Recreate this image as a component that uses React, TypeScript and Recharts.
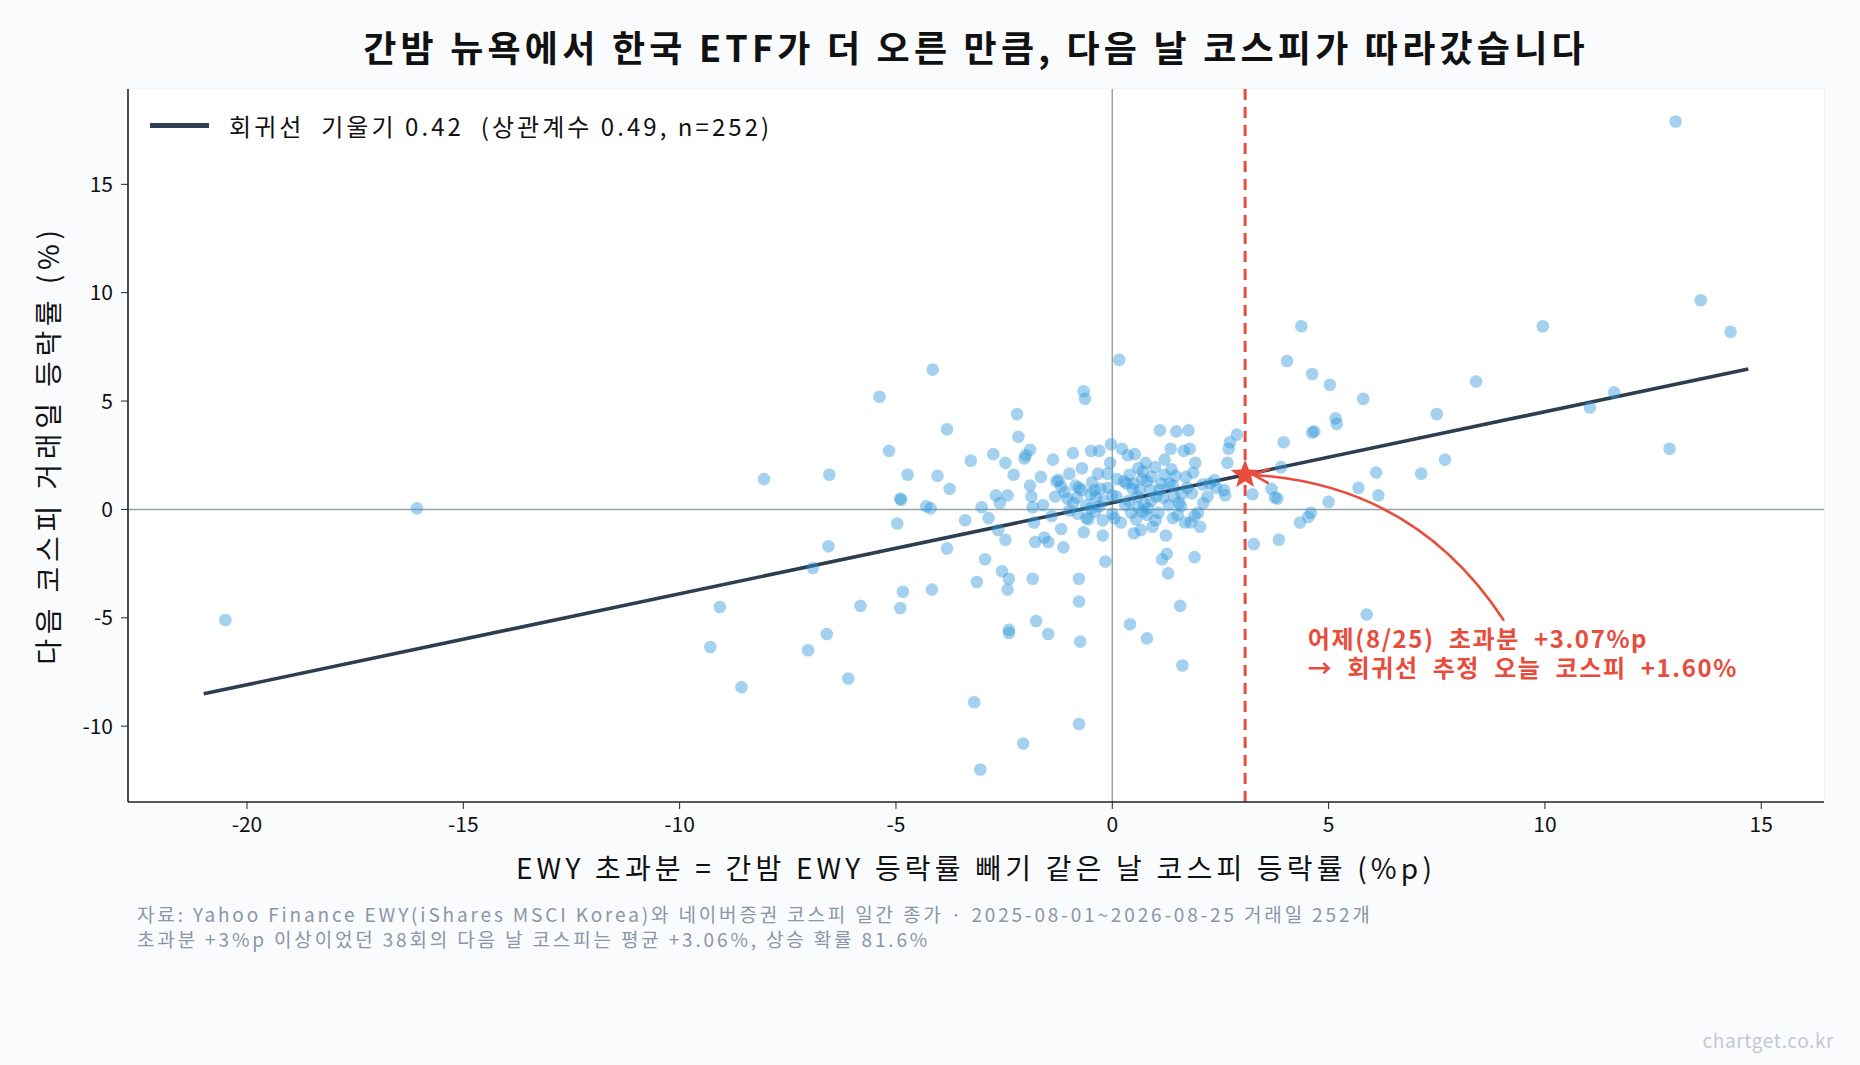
import React from 'react';
import {
  ScatterChart, Scatter, XAxis, YAxis, CartesianGrid, ReferenceLine, ReferenceDot,
} from 'recharts';

// EWY 초과분 (%p) -> 다음 날 코스피 등락률 (%)
const excessX: number[] = [
  -20.5, -16.07, -9.29, -9.07, -8.57, -8.05, -7.03, -6.92, -6.54, -6.56, -6.6, -6.1, -5.82, -5.38, -5.16,
  -4.9, -4.88, -4.97, -4.84, -4.9, -4.73, -4.15, -4.04, -3.82, -3.76, -4.3, -4.2, -3.82, -4.17, -3.4,
  -3.27, -3.13, -3.19, -3.05, -3.02, -2.94, -2.86, -2.75, -2.69, -2.64, -2.55, -2.47, -2.42, -2.47, -2.39,
  -2.42, -2.39, -2.39, -2.28, -2.2, -2.17, -2.03, -2.0, -1.9, -2.06, -1.87, -1.84, -1.81, -1.78, -1.84,
  -1.76, -1.65, -1.57, -1.48, -1.48, -1.37, -1.32, -1.29, -1.24, -1.18, -1.18, -1.13, -0.99, -0.91, -0.85,
  -1.04, -0.99, -0.82, -0.77, -0.71, -0.77, -0.77, -0.74, -0.77, -0.66, -0.66, -0.63, -0.6, -0.55, -0.49,
  -0.49, -0.47, -0.41, -0.38, -0.33, -0.3, -0.3, -0.27, -0.22, -0.22, -0.16, -0.11, -0.05, -0.03, 0.0,
  0.0, 0.05, 0.11, 0.16, 0.22, 0.27, 0.33, 0.36, 0.38, 0.41, 0.44, 0.47, 0.49, 0.52, 0.55,
  0.58, 0.6, 0.63, 0.66, 0.69, 0.71, 0.74, 0.77, 0.8, 0.8, 0.82, 0.88, 0.91, 0.93, 0.99,
  1.02, 1.07, 1.1, 1.13, 1.15, 1.18, 1.21, 1.24, 1.26, 1.29, 1.32, 1.35, 1.37, 1.4, 1.43,
  1.46, 1.48, 1.51, 1.54, 1.57, 1.59, 1.62, 1.65, 1.68, 1.73, 1.76, 1.79, 1.81, 1.84, 1.87,
  1.9, 1.92, 1.98, 2.03, 2.09, 2.2, 2.25, 2.36, 2.58, 2.61, 2.66, 2.69, 2.72, 2.88, 3.24,
  3.27, 3.68, 3.76, 3.82, 3.85, 3.9, 3.96, 4.04, 4.34, 4.37, 4.53, 4.59, 4.62, 4.62, 4.67,
  5.0, 5.03, 5.16, 5.19, 5.8, 5.69, 5.88, 6.1, 6.15, 7.14, 7.5, 7.69, 8.41, 9.95, 11.04,
  11.6, 12.88, 13.02, 13.6, 14.29,
  -1.6, -1.4, -1.1, -0.9, -0.8, -0.6, -0.5, -0.4, -0.2, -0.1, 0.1, 0.2, 0.3, 0.4, 0.6,
  0.7, 0.8, 0.9, 1.0, 1.1, 1.2, 1.3, 1.4, 1.6, 1.7, 1.9, 2.1, 2.4, -2.6, -1.9,
  -0.7, 0.5,
];

const nextKospi: number[] = [
  -5.1, 0.05, -6.35, -4.5, -8.2, 1.4, -6.5, -2.7, 1.6, -1.7, -5.75, -7.8, -4.45, 5.2, 2.7,
  0.5, 0.45, -0.65, -3.8, -4.55, 1.6, 6.45, 1.55, 3.7, 0.95, 0.15, 0.05, -1.8, -3.7, -0.5,
  2.25, -3.35, -8.9, -12.0, 0.1, -2.3, -0.4, 2.55, 0.65, -0.95, -2.85, 2.15, 0.65, -1.4, -3.2,
  -3.7, -5.55, -5.7, 1.6, 4.4, 3.35, 2.35, 2.5, 2.75, -10.8, 0.6, 0.1, -0.6, -1.5, -3.2,
  -5.15, 1.5, -1.3, -5.75, -1.5, 2.3, 0.6, 1.3, 1.35, 1.05, -0.9, -1.75, 1.65, 2.6, 1.1,
  0.5, -0.05, 0.55, 1.0, 0.9, -3.2, -4.25, -6.1, -9.9, -1.05, 5.45, 5.1, -0.4, -0.45, 0.05,
  2.7, 1.25, 0.9, 0.55, 1.65, 0.15, 2.7, 0.95, -0.5, -1.2, -2.4, 1.65, 2.15, 3.0, 0.65,
  -0.2, -0.4, 1.4, 6.9, 2.8, 1.3, 1.2, 2.5, 0.4, -5.3, -0.15, 0.95, 1.2, 2.55, -0.45,
  0.6, 0.1, 0.9, -0.95, 1.4, 1.75, 0.25, 2.15, -0.25, -5.95, 0.05, 0.9, 1.5, -0.8, 1.95,
  0.6, -0.15, 3.65, 1.2, -2.3, 0.55, 2.3, -1.2, -2.05, -2.95, 1.2, 2.8, 1.85, -0.4, 0.6,
  1.55, 3.6, -0.25, 0.3, -4.45, 0.15, -7.2, 2.7, -0.6, 1.0, 3.65, 2.8, -0.6, 0.75, 1.7,
  -2.2, 2.15, -0.15, -0.8, 1.15, 0.6, 1.2, 1.35, 0.9, 0.65, 2.15, 2.8, 3.1, 3.45, 0.7,
  -1.6, 0.95, 0.55, 0.5, -1.4, 1.95, 3.1, 6.85, -0.6, 8.45, -0.35, -0.15, 6.25, 3.55, 3.6,
  0.35, 5.75, 4.2, 3.95, 5.1, 1.0, -4.85, 1.7, 0.65, 1.65, 4.4, 2.3, 5.9, 8.45, 4.7,
  5.4, 2.8, 17.9, 9.65, 8.2,
  0.2, -0.3, 0.8, 0.3, -0.2, 0.2, 0.7, -0.1, 0.4, 1.0, 0.6, -0.6, 0.2, 1.6, 1.9,
  -0.1, 1.3, 0.4, -0.5, 0.9, 1.6, 0.2, 1.1, 0.7, 1.5, -0.3, 0.3, 1.0, 0.3, 1.1,
  1.9, -1.1,
];

const points = excessX.map((x, i) => ({ x, y: nextKospi[i] }));

const xTicks = [-20, -15, -10, -5, 0, 5, 10, 15];
const yTicks = [-10, -5, 0, 5, 10, 15];

const slope = 0.42;
const intercept = 0.31;
const lineStartX = -21;
const lineEndX = 14.7;

const todayExcess = 3.07;
const todayEstimate = 1.6;
const today = [{ x: todayExcess, y: todayEstimate }];

const arrowFrom = { x: 9.04, y: -5.09 };
const arrowTo = { x: 3.27, y: 1.59 };

const FONT = '"Noto Sans CJK KR", "Noto Sans", sans-serif';
const RED = '#e74c3c';
const NAVY = '#2c3e50';

const Dot = (props: any) => (
  <circle cx={props.cx} cy={props.cy} r={6.3} fill="#3498db" fillOpacity={0.45} />
);

const Star = (props: any) => {
  const { cx, cy } = props;
  const pts: string[] = [];
  for (let i = 0; i < 10; i++) {
    const r = i % 2 === 0 ? 15 : 6.5;
    const a = -Math.PI / 2 + (i * Math.PI) / 5;
    pts.push(`${cx + r * Math.cos(a)},${cy + r * Math.sin(a)}`);
  }
  return <polygon points={pts.join(' ')} fill={RED} />;
};

const CurvedArrow = (props: any) => {
  const { x1, y1, x2, y2 } = props;
  const dx = x2 - x1;
  const dy = y2 - y1;
  const mx = (x1 + x2) / 2;
  const my = (y1 + y2) / 2;
  const k = 0.25;
  const cx = mx - dy * k;
  const cy = my + dx * k;
  const tx = x2 - cx;
  const ty = y2 - cy;
  const len = Math.hypot(tx, ty);
  const ux = tx / len;
  const uy = ty / len;
  const head = 16;
  const ang = 0.45;
  const h1x = x2 - head * (ux * Math.cos(ang) - uy * Math.sin(ang));
  const h1y = y2 - head * (uy * Math.cos(ang) + ux * Math.sin(ang));
  const h2x = x2 - head * (ux * Math.cos(-ang) - uy * Math.sin(-ang));
  const h2y = y2 - head * (uy * Math.cos(-ang) + ux * Math.sin(-ang));
  return (
    <g fill="none" stroke={RED} strokeWidth={2.6} strokeLinecap="round">
      <path d={`M${x1},${y1} Q${cx},${cy} ${x2},${y2}`} />
      <path d={`M${h1x},${h1y} L${x2},${y2} L${h2x},${h2y}`} />
    </g>
  );
};

const Note = (props: any) => (
  <text x={props.cx} y={props.cy} fill={RED} fontFamily={FONT} fontSize={24} fontWeight={700}
    stroke="#ffffff" strokeWidth={3} paintOrder="stroke" style={{ letterSpacing: 1.6, whiteSpace: 'pre' }}>
    <tspan x={props.cx} dy={6}>어제(8/25)  초과분  +3.07%p</tspan>
    <tspan x={props.cx} dy={29}>→  회귀선  추정  오늘  코스피  +1.60%</tspan>
  </text>
);

export default function App() {
  return (
    <div style={{ position: 'absolute', left: 0, top: 0, width: 1860, height: 1065, background: '#f9fbfd', fontFamily: FONT }}>
      <div style={{ position: 'absolute', left: 128, width: 1696, top: 20, textAlign: 'center', fontSize: 36, fontWeight: 700, color: '#111', letterSpacing: 4.2, whiteSpace: 'nowrap' }}>
        간밤 뉴욕에서 한국 ETF가 더 오른 만큼, 다음 날 코스피가 따라갔습니다
      </div>
      <ScatterChart width={1860} height={1065} margin={{ top: 89, right: 36, left: 68, bottom: 223 }}>
        <rect x={128} y={89} width={1696} height={713} fill="#ffffff" />
        <CartesianGrid stroke="#ebebeb" strokeWidth={1.2} />
        <XAxis type="number" dataKey="x" domain={[-22.75, 16.45]} ticks={xTicks} height={40}
          allowDataOverflow tickLine={{ stroke: '#222' }} tickSize={7} tickMargin={8}
          axisLine={{ stroke: '#222', strokeWidth: 1.6 }}
          tick={{ fill: '#111', fontSize: 21, fontFamily: FONT }} />
        <YAxis type="number" dataKey="y" domain={[-13.5, 19.4]} ticks={yTicks} width={60}
          allowDataOverflow tickLine={{ stroke: '#222' }} tickSize={7} tickMargin={8}
          axisLine={{ stroke: '#222', strokeWidth: 1.6 }}
          tick={{ fill: '#111', fontSize: 21, fontFamily: FONT }} />
        <ReferenceLine x={0} stroke="#95a5a6" strokeWidth={1.5} />
        <ReferenceLine y={0} stroke="#95a5a6" strokeWidth={1.5} />
        <Scatter data={points} shape={Dot} isAnimationActive={false} />
        <ReferenceLine
          segment={[
            { x: lineStartX, y: intercept + slope * lineStartX },
            { x: lineEndX, y: intercept + slope * lineEndX },
          ]}
          stroke={NAVY} strokeWidth={3.6} />
        <ReferenceLine x={todayExcess} stroke={RED} strokeWidth={3} strokeDasharray="11 7" />
        <ReferenceLine segment={[arrowFrom, arrowTo]} shape={CurvedArrow} />
        <Scatter data={today} shape={Star} isAnimationActive={false} />
        <ReferenceDot x={4.52} y={-6.14} shape={Note} />
      </ScatterChart>
      <div style={{ position: 'absolute', left: 150, top: 108, display: 'flex', alignItems: 'center', fontSize: 24, color: '#111' }}>
        <div style={{ width: 59, height: 5, background: NAVY, marginRight: 20 }} />
        <span style={{ whiteSpace: 'pre', letterSpacing: 3.05 }}>회귀선  기울기 0.42  (상관계수 0.49, n=252)</span>
      </div>
      <div style={{ position: 'absolute', left: 47, top: 445, transform: 'translate(-50%, -50%) rotate(-90deg)', whiteSpace: 'nowrap', fontSize: 28, letterSpacing: 4.8, color: '#111' }}>
        다음 코스피 거래일 등락률 (%)
      </div>
      <div style={{ position: 'absolute', left: 128, width: 1696, top: 847, textAlign: 'center', fontSize: 28, letterSpacing: 4.2, color: '#111', whiteSpace: 'nowrap' }}>
        EWY 초과분 = 간밤 EWY 등락률 빼기 같은 날 코스피 등락률 (%p)
      </div>
      <div style={{ position: 'absolute', left: 137, top: 901, fontSize: 19, lineHeight: '25px', letterSpacing: 2.85, color: '#8b95a7', whiteSpace: 'nowrap' }}>
        <div>자료: Yahoo Finance EWY(iShares MSCI Korea)와 네이버증권 코스피 일간 종가 · 2025-08-01~2026-08-25 거래일 252개</div>
        <div>초과분 +3%p 이상이었던 38회의 다음 날 코스피는 평균 +3.06%, 상승 확률 81.6%</div>
      </div>
      <div style={{ position: 'absolute', right: 26, top: 1026, fontSize: 19, letterSpacing: 0.6, color: '#c3c8d0' }}>
        chartget.co.kr
      </div>
    </div>
  );
}
